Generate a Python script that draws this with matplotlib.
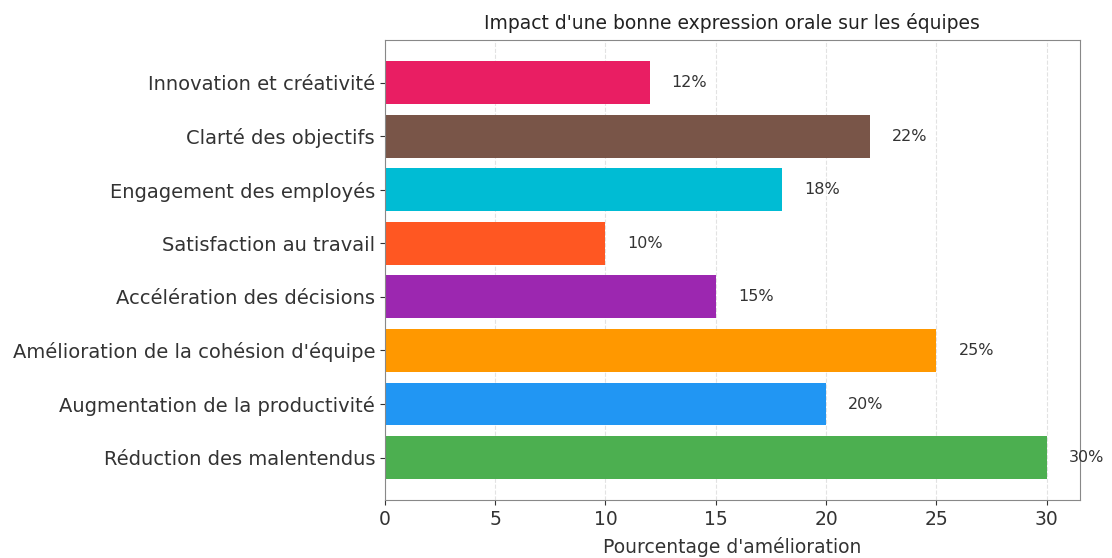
import matplotlib.pyplot as plt

plt.rcParams['font.family'] = ['DejaVu Sans']

categories = ["Réduction des malentendus",
              "Augmentation de la productivité",
              "Amélioration de la cohésion d'équipe",
              "Accélération des décisions",
              "Satisfaction au travail",
              "Engagement des employés",
              "Clarté des objectifs",
              "Innovation et créativité"]
values = [30, 20, 25, 15, 10, 18, 22, 12]
colors = ["#4CAF50", "#2196F3", "#FF9800", "#9C27B0",
          "#FF5722", "#00BCD4", "#795548", "#E91E63"]

fig = plt.figure(figsize=(11.12, 5.58), dpi=100)
ax = fig.add_axes([0.346, 0.104, 0.625, 0.824])

ax.barh(categories, values, color=colors, height=0.8, zorder=2)

# valeurs à droite des barres
for i, v in enumerate(values):
    ax.text(v + 1, i, f"{v}%", va="center", ha="left", fontsize=11.5, color="#333333")

ax.set_xlim(0, 31.5)
ax.grid(axis="x", linestyle="--", color="#e2e2e2", linewidth=0.8, zorder=0)
ax.set_title("Impact d'une bonne expression orale sur les équipes", fontsize=13.5, color="#222222", pad=8)
ax.set_xlabel("Pourcentage d'amélioration", fontsize=13.5, color="#333333", labelpad=6)
ax.tick_params(axis="y", labelsize=14, colors="#333333")
ax.tick_params(axis="x", labelsize=13.5, colors="#333333")
for s in ax.spines.values():
    s.set_color("#888888")

fig.savefig("out.png")
